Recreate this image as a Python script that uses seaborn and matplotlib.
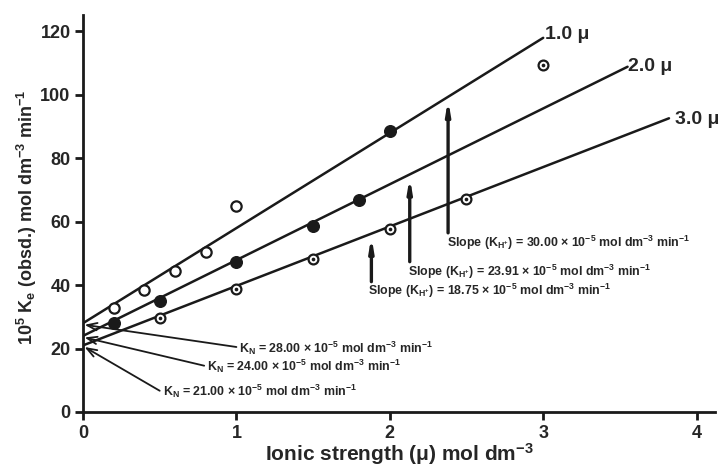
import numpy as np
import pandas as pd
import matplotlib
matplotlib.use("Agg")
import matplotlib.pyplot as plt
import seaborn as sns

# Fitted lines: intercept (K_N) and slope (K_H+), x-extent of each drawn line
line_labels = ["1.0 \u03bc", "2.0 \u03bc", "3.0 \u03bc"]
intercepts = [28.00, 24.00, 21.00]
slopes = [30.00, 23.91, 18.75]
line_x_end = [3.0, 3.55, 3.82]

# Open circles
open_x = [0.2, 0.4, 0.6, 0.8, 1.0]
open_y = [32.9, 38.5, 44.5, 50.4, 65.1]
# Filled circles
filled_x = [0.2, 0.5, 1.0, 1.5, 1.8, 2.0]
filled_y = [28.2, 35.1, 47.2, 58.7, 67.0, 88.7]
# Circles with a centre dot
dotted_x = [0.5, 1.0, 1.5, 2.0, 2.5, 3.0]
dotted_y = [29.8, 38.8, 48.2, 57.8, 67.2, 109.3]

x_ticks = [0, 1, 2, 3, 4]
y_ticks = [0, 20, 40, 60, 80, 100, 120]

sns.set_theme(style="ticks")
plt.rcParams["font.family"] = ["Liberation Sans", "DejaVu Sans"]
plt.rcParams["font.weight"] = "bold"
plt.rcParams["mathtext.fontset"] = "custom"
plt.rcParams["mathtext.rm"] = "Liberation Sans:bold"
plt.rcParams["mathtext.it"] = "Liberation Sans:bold"
plt.rcParams["mathtext.bf"] = "Liberation Sans:bold"
plt.rcParams["mathtext.default"] = "rm"

INK = "#1a1a1a"

fig = plt.figure(figsize=(7.25, 4.68), dpi=100)
ax = fig.add_axes([83 / 725, 1 - 412 / 468, (715 - 83) / 725, (412 - 15) / 468])

# regression lines
for b, m, xe in zip(intercepts, slopes, line_x_end):
    xs = np.array([0.0, xe])
    sns.lineplot(x=xs, y=b + m * xs, ax=ax, color=INK, lw=1.8)

# data points
sns.scatterplot(x=open_x, y=open_y, ax=ax, marker="o", s=55,
                facecolor="white", edgecolor=INK, linewidth=1.6, zorder=5)
sns.scatterplot(x=filled_x, y=filled_y, ax=ax, marker="o", s=70,
                color=INK, edgecolor=INK, linewidth=1.0, zorder=5)
sns.scatterplot(x=dotted_x, y=dotted_y, ax=ax, marker="o", s=50,
                facecolor="white", edgecolor=INK, linewidth=1.6, zorder=5)
sns.scatterplot(x=dotted_x, y=dotted_y, ax=ax, marker="o", s=7,
                color=INK, edgecolor=INK, linewidth=0, zorder=6)

# line labels
label_pos = [(3.01, 118.9), (3.555, 109.1), (3.86, 92.1)]
for lab, (lx, ly) in zip(line_labels, label_pos):
    ax.text(lx, ly, lab, fontsize=14, fontweight="bold", va="center", ha="left")

ann_size = 8.9

# K_N annotations (arrows to intercepts)
kn_text_pos = [(1.02, 20.2), (0.81, 14.3), (0.52, 6.4)]
for b, (tx, ty) in zip(intercepts, kn_text_pos):
    ax.annotate("", xy=(0.01, b - 0.5), xytext=(tx - 0.02, ty + 0.3),
                arrowprops=dict(arrowstyle="->,head_length=0.6,head_width=0.22",
                                color=INK, lw=1.3, shrinkA=0, shrinkB=0))
    ax.text(tx, ty, f"K$_{{\\mathrm{{N}}}}$ = {b:.2f} \u00d7 10$^{{-5}}$ mol dm$^{{-3}}$ min$^{{-1}}$",
            fontsize=ann_size, fontweight="bold", va="center", ha="left")

# slope annotations (vertical arrows up to the lines)
slope_arrow_x = [2.38, 2.13, 1.88]
slope_arrow_tail = [56.5, 47.4, 41.1]
slope_text_pos = [(2.37, 53.4), (2.12, 44.3), (1.86, 38.3)]
for b, m, axx, tail, (tx, ty) in zip(intercepts, slopes, slope_arrow_x,
                                      slope_arrow_tail, slope_text_pos):
    ax.annotate("", xy=(axx, b + m * axx - 0.8), xytext=(axx, tail),
                arrowprops=dict(arrowstyle="-|>,head_length=0.6,head_width=0.1",
                                color=INK, lw=2.4, shrinkA=0, shrinkB=0))
    ax.text(tx, ty, f"Slope (K$_{{\\mathrm{{H^{{+}}}}}}$) = {m:.2f} \u00d7 10$^{{-5}}$ mol dm$^{{-3}}$ min$^{{-1}}$",
            fontsize=ann_size, fontweight="bold", va="center", ha="left")

ax.set_xlim(0, 4.12)
ax.set_ylim(0, 125.2)
ax.set_xticks(x_ticks)
ax.set_yticks(y_ticks)
ax.set_xticklabels([str(t) for t in x_ticks], fontsize=13, fontweight="bold")
ax.set_yticklabels([str(t) for t in y_ticks], fontsize=13, fontweight="bold")
ax.tick_params(direction="out", length=6, width=2, color=INK, pad=3)
sns.despine(ax=ax)
for side in ["left", "bottom"]:
    ax.spines[side].set_linewidth(2)
    ax.spines[side].set_color(INK)

fig.text(399 / 725, 1 - 454 / 468, "Ionic strength (\u03bc) mol dm$^{-3}$",
         fontsize=15, fontweight="bold", ha="center", va="center")
fig.text(27 / 725, 1 - 217 / 468,
         "10$^{5}$ K$_{e}$ (obsd.) mol dm$^{-3}$ min$^{-1}$",
         fontsize=13, fontweight="bold", ha="center", va="center", rotation=90)

fig.savefig("out.png", dpi=100)
plt.close(fig)
